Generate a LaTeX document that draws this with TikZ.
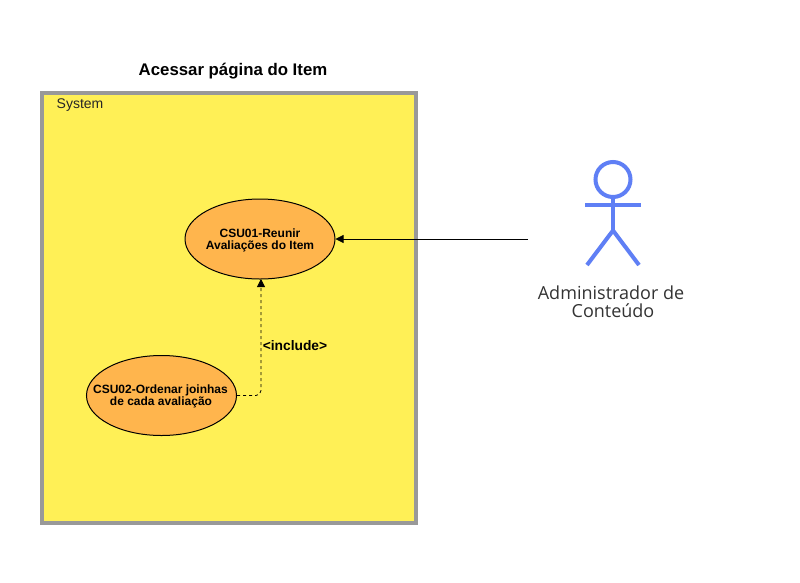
\documentclass[tikz,border=0pt]{standalone}
\usepackage{fontspec}
\setmainfont{Liberation Sans}
\newfontfamily\actorfont{Open Sans}
\usetikzlibrary{arrows.meta,shapes.geometric}
\definecolor{sysyellow}{HTML}{FFF056}
\definecolor{sysgray}{HTML}{999999}
\definecolor{usecase}{HTML}{FFB54D}
\definecolor{actorblue}{HTML}{5F7FF5}
\tikzset{
  sysbox/.style={draw=sysgray,fill=sysyellow,line width=4pt,minimum width=374pt,minimum height=430pt,inner sep=0pt},
  usecasenode/.style={ellipse,draw=black,fill=usecase,line width=1pt,minimum width=150pt,minimum height=80pt,inner xsep=-40pt,inner ysep=-10pt,align=center,font=\fontsize{12}{12}\selectfont\bfseries},
  actorline/.style={draw=actorblue,line width=4pt},
  conn/.style={draw=black,line width=0.8pt,-{Triangle[length=8pt,width=8pt]}}
}
\begin{document}
\begin{tikzpicture}[x=1pt,y=-1pt]
\useasboundingbox (0,0) rectangle (800,582);
\fill[white] (0,0) rectangle (800,582);
\node[font=\fontsize{16.8}{18}\selectfont\bfseries,anchor=center] (title) at (233,71.5) {Acessar página do Item};
\node[sysbox] (system) at (229,308) {};
\node[font=\fontsize{14}{16}\selectfont,anchor=center,text=black!85] (syslabel) at (80,105) {System};
\node[usecasenode] (uc1) at (260,239) {\rule{0pt}{11pt}CSU01-Reunir\\Avaliações do Item};
\node[usecasenode] (uc2) at (161.5,395.5) {\rule{0pt}{11pt}CSU02-Ordenar joinhas\hspace*{2pt}\\de cada avaliação\hspace*{1pt}};
\node[font=\fontsize{13.8}{15}\selectfont\bfseries,anchor=center] (inc) at (295,346) {<include>};
\node[circle,actorline,minimum size=35pt,inner sep=0pt] (head) at (613,179.5) {};
\coordinate (hip) at (613,230.5);
\coordinate (armL) at (585,204.5);
\coordinate (armR) at (641,204.5);
\coordinate (legL) at (587,265);
\coordinate (legR) at (639,265);
\coordinate (actorport) at (528,239);
\path[actorline] (head.south) -- (hip);
\path[actorline] (armL) -- (armR);
\path[actorline] (legL) -- (hip) -- (legR);
\node[font=\fontsize{18}{18}\selectfont\actorfont,align=center,text=black!80,anchor=center] (actorname) at (611,301.5) {Administrador de\\\hspace*{4pt}Conteúdo};
\draw[conn] (actorport) -- (uc1.east);
\draw[conn,dash pattern=on 3pt off 3pt,rounded corners=5pt] (uc2.east) -- (261,395.5) -- (261,279);
\end{tikzpicture}
\end{document}
